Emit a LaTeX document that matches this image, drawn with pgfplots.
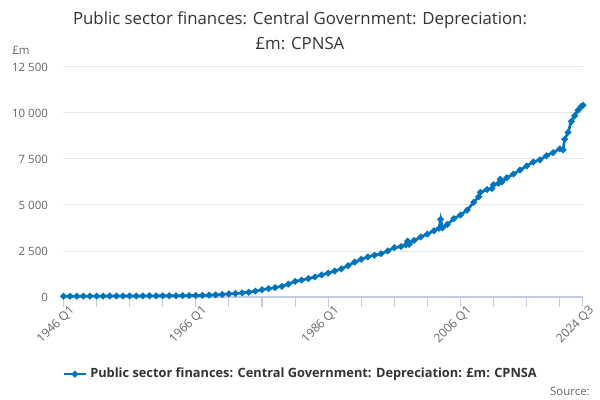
\documentclass[border=0pt]{standalone}
\usepackage{pgfplots}
\pgfplotsset{compat=1.18}
\usepackage{fontspec}
\setmainfont{Open Sans}
\definecolor{onsblue}{RGB}{0,117,190}
\definecolor{titlegray}{RGB}{51,51,51}
\definecolor{labgray}{RGB}{102,102,102}
\definecolor{gridgray}{RGB}{230,230,230}
\definecolor{axisblue}{RGB}{192,204,230}
\begin{document}
\begin{tikzpicture}
\useasboundingbox (0pt,0pt) rectangle (450pt,300pt);
\node[align=center, text=titlegray, font=\fontsize{12.6}{18.75}\selectfont] at (225pt,277.2pt)
  {Public sector finances: Central Government: Depreciation:\\£m: CPNSA};
\node[anchor=west, text=labgray, font=\fontsize{8.6}{10}\selectfont, inner sep=0pt] at (9pt,262pt) {£m};
\node[anchor=east, text=labgray, font=\fontsize{8.6}{10}\selectfont, inner sep=0pt] at (442.5pt,6.5pt) {Source:};
\begin{axis}[
  at={(47.6pt,77.25pt)}, anchor=south west,
  scale only axis, width=389.6pt, height=172.5pt,
  xmin=0, xmax=314, ymin=0, ymax=12500,
  enlargelimits=false,
  clip=false,
  axis x line*=bottom,
  axis y line*=left,
  x axis line style={axisblue, line width=0.8pt, -},
  y axis line style={draw=none},
  xtick={0,80,160,240,314},
  xticklabels={1946 Q1,1966 Q1,1986 Q1,2006 Q1,2024 Q3},
  ytick={0,2500,5000,7500,10000,12500},
  scaled y ticks=false,
  ymajorgrids, grid style={gridgray, line width=0.75pt},
  xtick style={draw=none},
  ytick style={draw=none},
  xticklabel style={rotate=45, anchor=north east, text=labgray, font=\fontsize{9}{10}\selectfont, inner sep=1pt, yshift=-5.5pt},
  yticklabel style={text=labgray, font=\fontsize{8.6}{10}\selectfont, inner sep=0pt, xshift=-11.5pt},
  /pgf/number format/.cd, 1000 sep={\ }, assume math mode=true,
  /pgfplots/.cd,
  legend style={at={(0.457,-0.335)}, anchor=center, draw=none, fill=none,
    font=\fontsize{9.6}{11}\selectfont\bfseries, text=titlegray,
    legend cell align=left},
  legend image code/.code={
    \draw[#1, mark repeat=2, mark phase=2] plot coordinates {(0cm,0cm) (0.3cm,0cm) (0.6cm,0cm)};
  },
]
\pgfplotsinvokeforeach{0,20,40,60,80,100,120,140,160,180,200,220,240,260,280,300,314}{
  \draw[axisblue, line width=0.8pt] (axis cs:#1,0) -- ++(0pt,-7.5pt);
}
\draw[axisblue, line width=0.8pt] (axis cs:0,0) -- (axis cs:314,0);
\addplot[onsblue, line width=2pt, mark=*, mark size=1.3pt, mark options={solid}] coordinates {
(0,40) (4,42) (8,44) (12,45) (16,47) (20,48) (24,50) (28,52) (32,53) (36,55)
(40,56) (44,58) (48,60) (52,62) (56,64) (60,66) (64,68) (68,70) (72,73) (76,76)
(80,80) (84,90) (88,100) (92,115) (96,140) (100,170) (104,190) (108,220) (112,260) (116,320)
(120,400) (124,450) (128,510) (132,580) (136,700) (140,850) (144,920) (148,1000) (152,1090) (156,1200)
(160,1300) (164,1410) (168,1530) (172,1700) (176,1900) (180,2050) (184,2180) (188,2270) (192,2350) (196,2500)
(200,2680) (204,2740) (207,2830) (208,3040) (209,2860) (212,3080) (216,3260) (220,3420) (224,3600) (227,3730)
(228,4220) (229,3760) (232,3940) (236,4260) (240,4460) (244,4720) (248,5150) (251,5450) (252,5680) (256,5840)
(259,5900) (260,6100) (263,6180) (264,6400) (265,6260) (268,6480) (272,6680) (276,6900) (280,7120) (284,7340)
(288,7450) (292,7680) (296,7850) (300,8050) (302,8000) (303,8580) (305,8950) (307,9550) (309,9850) (311,10150)
(313,10350) (314,10420)
};
\addlegendentry{Public sector finances: Central Government: Depreciation: £m: CPNSA}
\end{axis}
\end{tikzpicture}
\end{document}
